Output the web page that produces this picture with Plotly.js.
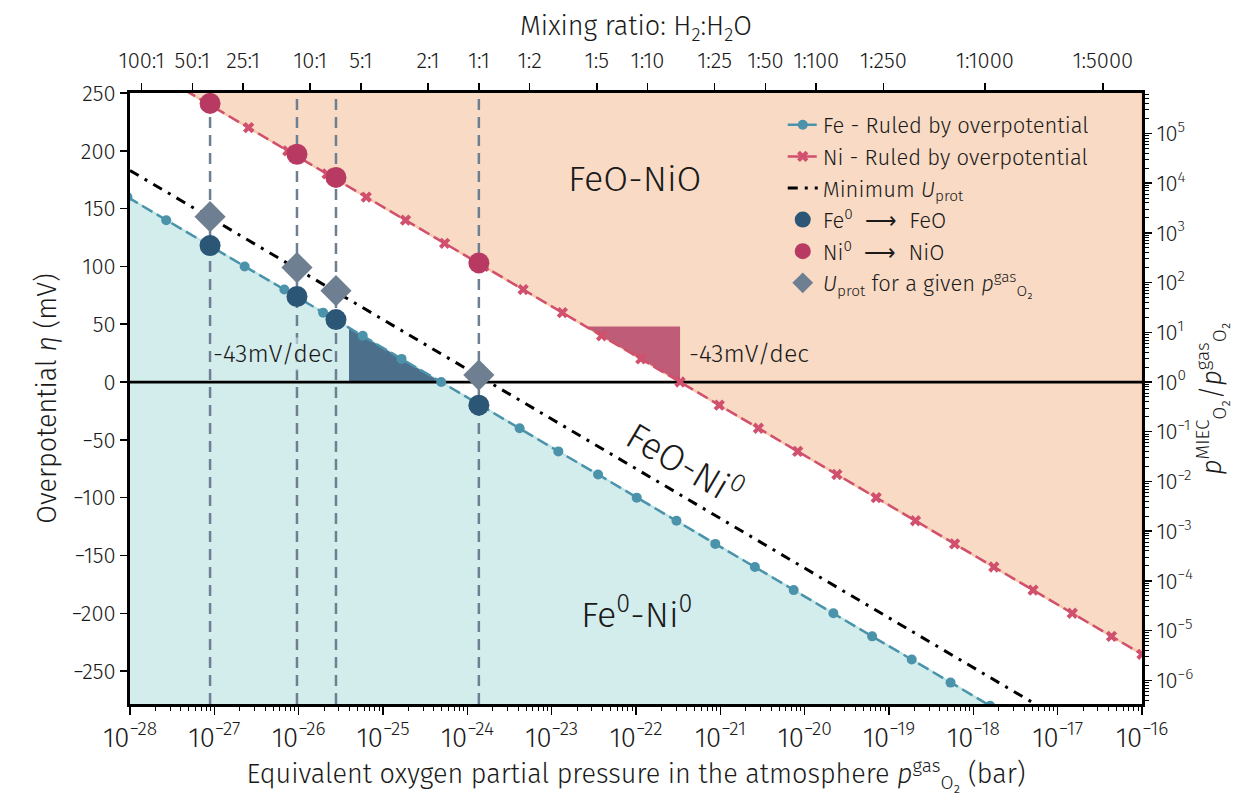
<!DOCTYPE html>
<html>
<head>
<meta charset="utf-8">
<script src="https://cdn.plot.ly/plotly-3.0.1.min.js"></script>
<style>html,body{margin:0;padding:0;background:#fff;}#chart{width:1256px;height:796px;}</style>
</head>
<body>
<div id="chart"></div>
<script>
// ---------- data ----------
// Fe - ruled by overpotential (pO2 in bar, overpotential in mV)
const feP   = [9.33e-29, 2.69e-28, 7.94e-28, 2.29e-27, 6.76e-27, 1.95e-26, 5.75e-26, 1.66e-25, 4.90e-25, 1.41e-24, 4.17e-24, 1.20e-23, 3.55e-23, 1.02e-22, 3.02e-22, 8.71e-22, 2.57e-21, 7.41e-21, 2.19e-20, 6.31e-20, 1.86e-19, 5.37e-19, 1.58e-18];
const feEta = [160, 140, 120, 100, 80, 60, 40, 20, 0, -20, -40, -60, -80, -100, -120, -140, -160, -180, -200, -220, -240, -260, -280];
// Ni - ruled by overpotential
const niP   = [2.99e-28, 8.73e-28, 2.55e-27, 7.43e-27, 2.17e-26, 6.33e-26, 1.85e-25, 5.38e-25, 1.57e-24, 4.59e-24, 1.34e-23, 3.91e-23, 1.14e-22, 3.33e-22, 9.71e-22, 2.83e-21, 8.26e-21, 2.41e-20, 7.05e-20, 2.06e-19, 6.00e-19, 1.75e-18, 5.11e-18, 1.49e-17, 4.35e-17, 1.0e-16];
const niEta = [260, 240, 220, 200, 180, 160, 140, 120, 100, 80, 60, 40, 20, 0, -20, -40, -60, -80, -100, -120, -140, -160, -180, -200, -220, -235.5];
// Minimum U_prot line
const minUP   = [1.0e-28, 5.4e-18];
const minUEta = [183, -278.5];
// Selected gas compositions
const selP     = [8.9e-28, 9.55e-27, 2.77e-26, 1.37e-24];
const uprotEta = [143, 99, 79, 6];
const fe0Eta   = [118, 74, 54, -20];
const ni0Eta   = [241, 197, 177, 103];
// Slope triangles
const feTriP   = [3.95e-26, 3.95e-26, 4.88e-25];
const feTriEta = [47, 0, 0];
const niTriP   = [2.48e-23, 3.33e-22, 3.33e-22];
const niTriEta = [48, 48, 0];
// Stability region fills
const feFillP   = [9.33e-29, 1.58e-18, 9.33e-29];
const feFillEta = [160, -280, -280];
const niFillP   = [2.99e-28, 1.0e-16, 1.0e-16];
const niFillEta = [260, -235.5, 260];
// Top axis: H2:H2O mixing ratios
const mixLabels = ["100:1","50:1","25:1","10:1","5:1","2:1","1:1","1:2","1:5","1:10","1:25","1:50","1:100","1:250","1:1000","1:5000"];
const mixH2     = [100, 50, 25, 10, 5, 2, 1, 1, 1, 1, 1, 1, 1, 1, 1, 1];
const mixH2O    = [1, 1, 1, 1, 1, 1, 1, 2, 5, 10, 25, 50, 100, 250, 1000, 5000];
const pO2at11   = 1.37e-24;  // pO2 at H2:H2O = 1:1
// Left axis ticks
const etaTicks  = [-250, -200, -150, -100, -50, 0, 50, 100, 150, 200, 250];
const yRange    = [-278.5, 250];
// Right axis: pO2(MIEC)/pO2(gas), 43 mV per decade
const mvPerDec  = 43;
const ratioTicks  = [1e-6, 1e-5, 1e-4, 1e-3, 1e-2, 1e-1, 1e0, 1e1, 1e2, 1e3, 1e4, 1e5];
const ratioLabels = ["10<sup>−6</sup>","10<sup>−5</sup>","10<sup>−4</sup>","10<sup>−3</sup>","10<sup>−2</sup>","10<sup>−1</sup>","10<sup>0</sup>","10<sup>1</sup>","10<sup>2</sup>","10<sup>3</sup>","10<sup>4</sup>","10<sup>5</sup>"];

// ---------- styling ----------
const FONT = "'Fira Sans', 'Noto Sans', 'Open Sans', sans-serif";
const TXT = '#1a1a1a';
const W = 300;
const cFe = '#4b93ab', cNi = '#d0506e', cFe0 = '#2b5676', cNi0 = '#b83a62', cSlate = '#6f7f92';

const mixTickVals = mixH2O.map((w, i) => pO2at11 * Math.pow(w / mixH2[i], 2));

const traces = [
  {x: feFillP, y: feFillEta, mode: 'lines', fill: 'toself', fillcolor: 'rgb(211,236,236)',
   line: {color: 'rgb(190,228,230)', width: 2}, showlegend: false, hoverinfo: 'skip'},
  {x: niFillP, y: niFillEta, mode: 'lines', fill: 'toself', fillcolor: 'rgb(249,218,197)',
   line: {color: 'rgb(248,200,172)', width: 2.5}, showlegend: false, hoverinfo: 'skip'},
  {x: feTriP, y: feTriEta, mode: 'lines', fill: 'toself', fillcolor: 'rgb(76,112,139)',
   line: {width: 0}, showlegend: false, hoverinfo: 'skip'},
  {x: niTriP, y: niTriEta, mode: 'lines', fill: 'toself', fillcolor: 'rgb(191,92,119)',
   line: {width: 0}, showlegend: false, hoverinfo: 'skip'}
];
selP.forEach(p => traces.push({x: [p, p], y: yRange, mode: 'lines',
  line: {color: cSlate, width: 2.5, dash: '11px,7px'}, showlegend: false, hoverinfo: 'skip'}));
traces.push(
  {x: [1e-28, 1e-16], y: [0, 0], mode: 'lines', line: {color: '#000', width: 2.8}, showlegend: false, hoverinfo: 'skip'},
  {x: minUP, y: minUEta, mode: 'lines', name: 'Minimum <i>U</i><sub>prot</sub>', legendrank: 3,
   line: {color: '#000', width: 3, dash: '10px,7px,3px,7px'}},
  {x: feP, y: feEta, mode: 'lines+markers', name: 'Fe - Ruled by overpotential', legendrank: 1,
   line: {color: cFe, width: 2.5, dash: '12px,5px'}, marker: {color: cFe, size: 10, symbol: 'circle'}},
  {x: niP, y: niEta, mode: 'lines+markers', name: 'Ni - Ruled by overpotential', legendrank: 2,
   line: {color: cNi, width: 2.5, dash: '12px,5px'}, marker: {color: cNi, size: 10, symbol: 'x'}},
  {x: selP, y: uprotEta, mode: 'markers', name: '<i>U</i><sub>prot</sub> for a given <i>p</i><sup>gas</sup><sub>O₂</sub>', legendrank: 6,
   marker: {color: cSlate, size: 24, symbol: 'diamond'}},
  {x: selP, y: fe0Eta, mode: 'markers', name: 'Fe<sup>0</sup>  ⟶  FeO', legendrank: 4,
   marker: {color: cFe0, size: 21, symbol: 'circle'}},
  {x: selP, y: ni0Eta, mode: 'markers', name: 'Ni<sup>0</sup>  ⟶  NiO', legendrank: 5,
   marker: {color: cNi0, size: 21, symbol: 'circle'}},
  // carriers for the secondary axes
  {x: [1e-28, 1e-16], y: [0, 0], xaxis: 'x2', yaxis: 'y', mode: 'lines', line: {width: 0}, showlegend: false, hoverinfo: 'skip'},
  {x: [1e-28, 1e-16], y: [1, 1], xaxis: 'x', yaxis: 'y2', mode: 'lines', line: {width: 0}, showlegend: false, hoverinfo: 'skip'}
);

const tickFont = {family: FONT, size: 22, color: TXT, weight: W};
const titleFont = {family: FONT, size: 27, color: TXT, weight: W};
const bigFont = {family: FONT, size: 36, color: TXT, weight: W};
const slopeFont = {family: FONT, size: 25, color: TXT, weight: W};

const layout = {
  width: 1256, height: 796,
  margin: {l: 130, r: 114, t: 93, b: 92},
  paper_bgcolor: '#fff', plot_bgcolor: '#fff',
  font: {family: FONT, color: TXT, weight: W},
  showlegend: true,
  legend: {x: 0.645, y: 0.982, xanchor: 'left', yanchor: 'top', bgcolor: 'rgba(0,0,0,0)',
           font: {family: FONT, size: 22, color: TXT, weight: W}, tracegroupgap: 0, itemwidth: 30},
  xaxis: {type: 'log', range: [-28, -16], dtick: 1, exponentformat: 'power', showexponent: 'all',
          showgrid: false, zeroline: false, showline: true, linecolor: '#000', linewidth: 3,
          ticks: 'outside', ticklen: 8, tickwidth: 1.5, tickcolor: '#000', tickfont: tickFont,
          minor: {ticks: 'outside', ticklen: 4, tickwidth: 1, tickcolor: '#000', dtick: 'D1', showgrid: false},
          title: {text: 'Equivalent oxygen partial pressure in the atmosphere <i>p</i><sup>gas</sup><sub>O₂</sub> (bar)', font: titleFont, standoff: 4}},
  xaxis2: {type: 'log', range: [-28, -16], overlaying: 'x', side: 'top', anchor: 'y',
           tickmode: 'array', tickvals: mixTickVals, ticktext: mixLabels, ticklabelstandoff: 6,
           showgrid: false, zeroline: false, showline: true, linecolor: '#000', linewidth: 3,
           ticks: 'outside', ticklen: 7, tickwidth: 1.5, tickcolor: '#000', tickfont: tickFont,
           title: {text: 'Mixing ratio: H<sub>2</sub>:H<sub>2</sub>O', font: titleFont, standoff: 4}},
  yaxis: {range: yRange, tickmode: 'array', tickvals: etaTicks, showgrid: false, zeroline: false,
          showline: true, linecolor: '#000', linewidth: 3,
          ticks: 'outside', ticklen: 7, tickwidth: 1.5, tickcolor: '#000', tickfont: tickFont,
          title: {text: 'Overpotential <i>η</i> (mV)', font: titleFont, standoff: 8}},
  yaxis2: {type: 'log', range: [yRange[0] / mvPerDec, yRange[1] / mvPerDec], overlaying: 'y', side: 'right', anchor: 'x',
           tickmode: 'array', tickvals: ratioTicks, ticktext: ratioLabels,
           showgrid: false, zeroline: false, showline: true, linecolor: '#000', linewidth: 3,
           ticks: 'outside', ticklen: 7, tickwidth: 1.5, tickcolor: '#000', tickfont: tickFont,
           minor: {ticks: 'outside', ticklen: 3.5, tickwidth: 1, tickcolor: '#000', dtick: 'D1', showgrid: false},
           title: {text: '<i>p</i><sup>MIEC</sup><sub>O₂</sub>/<i>p</i><sup>gas</sup><sub>O₂</sub>', font: titleFont, standoff: 6}},
  annotations: [
    {xref: 'x', yref: 'y', x: -22.01, y: 176, text: 'FeO-NiO', showarrow: false, font: bigFont},
    {xref: 'x', yref: 'y', x: -21.42, y: -70, text: 'FeO-Ni<sup>0</sup>', textangle: 30.5, showarrow: false, font: {family: FONT, size: 37, color: TXT, weight: W}},
    {xref: 'x', yref: 'y', x: -21.99, y: -199, text: 'Fe<sup>0</sup>-Ni<sup>0</sup>', showarrow: false, font: bigFont},
    {xref: 'x', yref: 'y', x: -26.3, y: 24, text: '-43mV/dec', showarrow: false, bgcolor: 'rgba(211,236,236,0.6)', font: slopeFont},
    {xref: 'x', yref: 'y', x: -20.66, y: 24, text: '-43mV/dec', showarrow: false, font: slopeFont}
  ]
};

Plotly.newPlot('chart', traces, layout, {displayModeBar: false, staticPlot: true});
</script>
</body>
</html>
